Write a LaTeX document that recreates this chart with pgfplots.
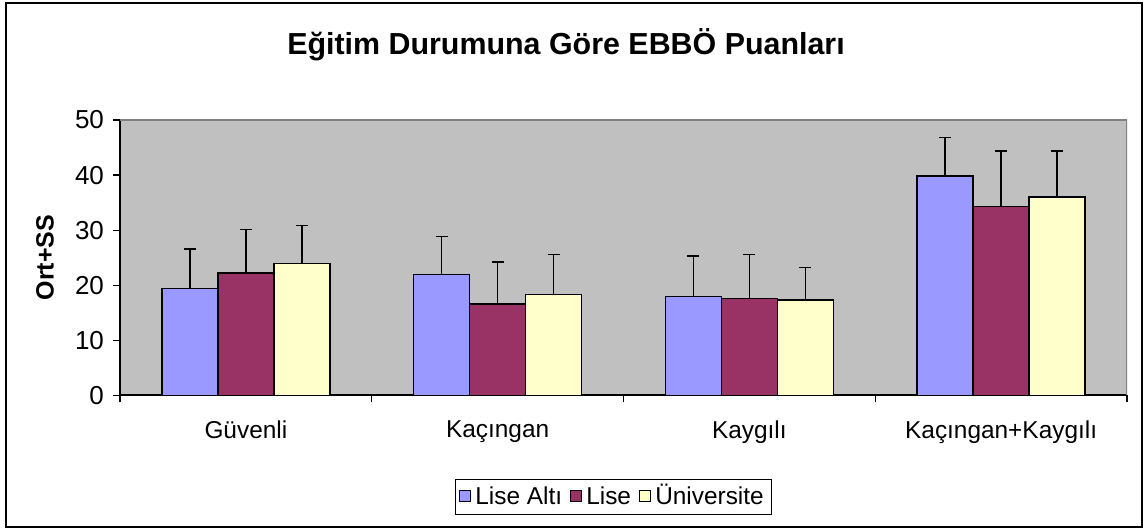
\documentclass[border=0pt]{standalone}
\usepackage{fontspec}
\setmainfont{Liberation Sans}
\usepackage{pgfplots}
\pgfplotsset{compat=1.18}

\definecolor{liseAlti}{HTML}{9999FF}
\definecolor{lise}{HTML}{993366}
\definecolor{univ}{HTML}{FFFFCC}
\definecolor{plotbg}{HTML}{C0C0C0}

\begin{document}
\begin{tikzpicture}
\useasboundingbox (0,0) rectangle (572.5pt,264.5pt);
% outer frame
\draw[line width=1.2pt] (3pt,1pt) rectangle (571pt,263pt);

\node[font=\fontsize{15.2}{18}\selectfont\bfseries] at (283pt,242pt) {Eğitim Durumuna Göre EBBÖ Puanları};
\node[font=\fontsize{12.5}{14}\selectfont\bfseries, rotate=90] at (22.5pt,135.7pt) {Ort+SS};

\begin{axis}[
  at={(60pt,66.85pt)}, anchor=south west,
  scale only axis,
  width=503.5pt, height=137.65pt,
  ybar=0pt, bar width=0.2227,
  xmin=-0.5, xmax=3.5,
  ymin=0, ymax=50,
  ytick={0,10,...,50},
  xtick={-0.5,0.5,1.5,2.5,3.5},
  xticklabels={},
  extra x ticks={0,1,2,3},
  extra x tick labels={Güvenli,Kaçıngan,Kaygılı,Kaçıngan+Kaygılı},
  extra x tick style={major tick length=0pt, xticklabel style={yshift=-9pt, font=\fontsize{12.2}{14}\selectfont}},
  major tick length=3.5pt,
  tick align=outside,
  tick style={black, line width=0.6pt},
  axis x line*=bottom, axis y line*=left,
  axis line style={-, black, line width=0.8pt},
  axis background/.style={fill=plotbg},
  ticklabel style={font=\fontsize{13}{15}\selectfont},
  yticklabel style={xshift=-1pt},
  /pgf/number format/assume math mode=true,
  legend style={at={(0.49,-0.369)}, anchor=center, draw=black, line width=0.6pt,
    legend columns=-1, font=\fontsize{12.2}{14}\selectfont,
    inner sep=2pt,
    nodes={text height=1.6ex, text depth=0.25ex},
    /tikz/every even column/.append style={column sep=2pt}},
  legend image code/.code={\draw[#1, draw=black, line width=0.6pt] (0pt,-2.5pt) rectangle (5.5pt,3pt);},
  every axis plot/.append style={draw=black, line width=0.75pt},
  error bars/y dir=plus, error bars/y explicit,
  error bars/error bar style={black, line width=0.75pt},
  error bars/error mark options={rotate=90, mark size=3pt, black, line width=0.75pt},
]
\addplot[fill=liseAlti] coordinates {
  (0,19.4) +- (0,7.2)
  (1,21.9) +- (0,6.9)
  (2,17.9) +- (0,7.4)
  (3,39.8) +- (0,7.0)
};
\addlegendentry{Lise Altı}
\addplot[fill=lise] coordinates {
  (0,22.2) +- (0,7.9)
  (1,16.6) +- (0,7.6)
  (2,17.6) +- (0,8.0)
  (3,34.3) +- (0,10.1)
};
\addlegendentry{Lise}
\addplot[fill=univ] coordinates {
  (0,23.9) +- (0,6.9)
  (1,18.3) +- (0,7.3)
  (2,17.3) +- (0,5.9)
  (3,36.0) +- (0,8.4)
};
\addlegendentry{Üniversite}
\draw[gray, line width=0.8pt] (rel axis cs:0,1) -- (rel axis cs:1,1) -- (rel axis cs:1,0);
\end{axis}
\end{tikzpicture}
\end{document}
